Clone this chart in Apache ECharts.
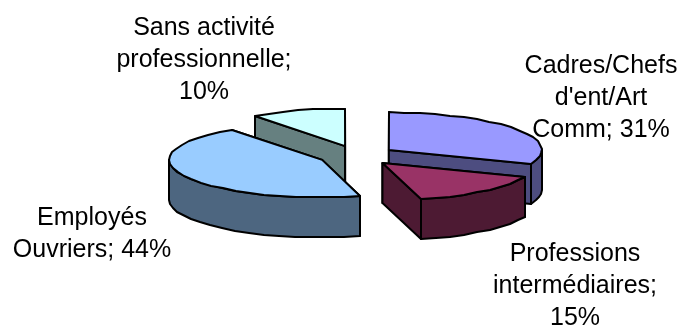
<!DOCTYPE html>
<html>
<head>
<meta charset="utf-8">
<style>html,body{margin:0;padding:0;background:#fff}#chart{width:680px;height:325px}</style>
<script src="https://cdn.jsdelivr.net/npm/echarts@6/dist/echarts.min.js"></script>
</head>
<body>
<div id="chart"></div>
<script>
// Socio-professional breakdown, drawn as an exploded 3D pie.
const categories = ['Cadres/Chefs d\'ent/Art Comm', 'Professions intermédiaires', 'Employés Ouvriers', 'Sans activité professionnelle'];
const shares = [31, 15, 44, 10];
const labelLines = [
  ['Cadres/Chefs', "d'ent/Art", 'Comm; 31%'],
  ['Professions', 'intermédiaires;', '15%'],
  ['Employés', 'Ouvriers; 44%'],
  ['Sans activité', 'professionnelle;', '10%']
];
const topColors = ['#9999FF', '#993366', '#99CCFF', '#CCFFFF'];
const sideColors = ['#4D4D80', '#4D1A33', '#4D6680', '#668080'];

// Pie geometry
const cx = 357, cy = 155.6, rx = 153, ry = 37.5, depth = 40;
const explodeX = 38.5, explodeY = 10;
const stepDeg = 6;
// Centre of each label block, and paint order (back slices first)
const labelAnchors = [[601, 98], [575, 286], [92, 234], [204, 60]];
const paintRank = [1, 3, 2, 0];

const total = shares.reduce((a, b) => a + b, 0);
const outline = { stroke: '#000', lineWidth: 2, lineJoin: 'round' };

function rimPoint(c, a) {
  const r = a * Math.PI / 180;
  return [Math.round(c[0] + rx * Math.sin(r)), Math.round(c[1] - ry * Math.cos(r))];
}
function arcPoints(c, a0, a1) {
  const pts = [];
  const n = Math.max(1, Math.round((a1 - a0) / stepDeg));
  for (let i = 0; i <= n; i++) pts.push(rimPoint(c, a0 + (a1 - a0) * i / n));
  return pts;
}
const drop = p => [p[0], p[1] + depth];

function renderSlice(params, api) {
  const i = params.dataIndex;
  let before = 0;
  for (let k = 0; k < i; k++) before += shares[k];
  const value = api.value(0);
  const a0 = before / total * 360;
  const a1 = a0 + value / total * 360;
  const mid = (a0 + a1) / 2 * Math.PI / 180;
  const c = [cx + explodeX * Math.sin(mid), cy - explodeY * Math.cos(mid)];
  const z = paintRank[i] * 10;
  const poly = (points, fill, dz) => ({
    type: 'polygon', z2: z + dz, shape: { points },
    style: Object.assign({ fill }, outline)
  });
  const children = [];
  const start = rimPoint(c, a0), end = rimPoint(c, a1);
  // Cut faces
  children.push(poly([c, start, drop(start), drop(c)], sideColors[i], 0));
  children.push(poly([c, end, drop(end), drop(c)], sideColors[i], 1));
  // Outer wall, only the part that faces the viewer
  const f0 = Math.max(a0, 90), f1 = Math.min(a1, 270);
  if (f1 > f0) {
    const arc = arcPoints(c, f0, f1);
    children.push(poly(arc.concat(arc.slice().reverse().map(drop)), sideColors[i], 2));
  }
  // Top face
  children.push(poly([c].concat(arcPoints(c, a0, a1)), topColors[i], 3));
  // Label
  children.push({
    type: 'text', z2: 100,
    style: {
      text: labelLines[i].join('\n'), x: labelAnchors[i][0], y: labelAnchors[i][1],
      align: 'center', verticalAlign: 'middle',
      font: '25px "Liberation Sans", Arial, sans-serif', lineHeight: 32, fill: '#000'
    }
  });
  return { type: 'group', children };
}

const chart = echarts.init(document.getElementById('chart'), null, { renderer: 'canvas' });
chart.setOption({
  animation: false,
  backgroundColor: '#fff',
  series: [{
    type: 'custom',
    coordinateSystem: 'none',
    renderItem: renderSlice,
    data: categories.map((name, i) => ({ name, value: [shares[i]] }))
  }]
});
</script>
</body>
</html>
